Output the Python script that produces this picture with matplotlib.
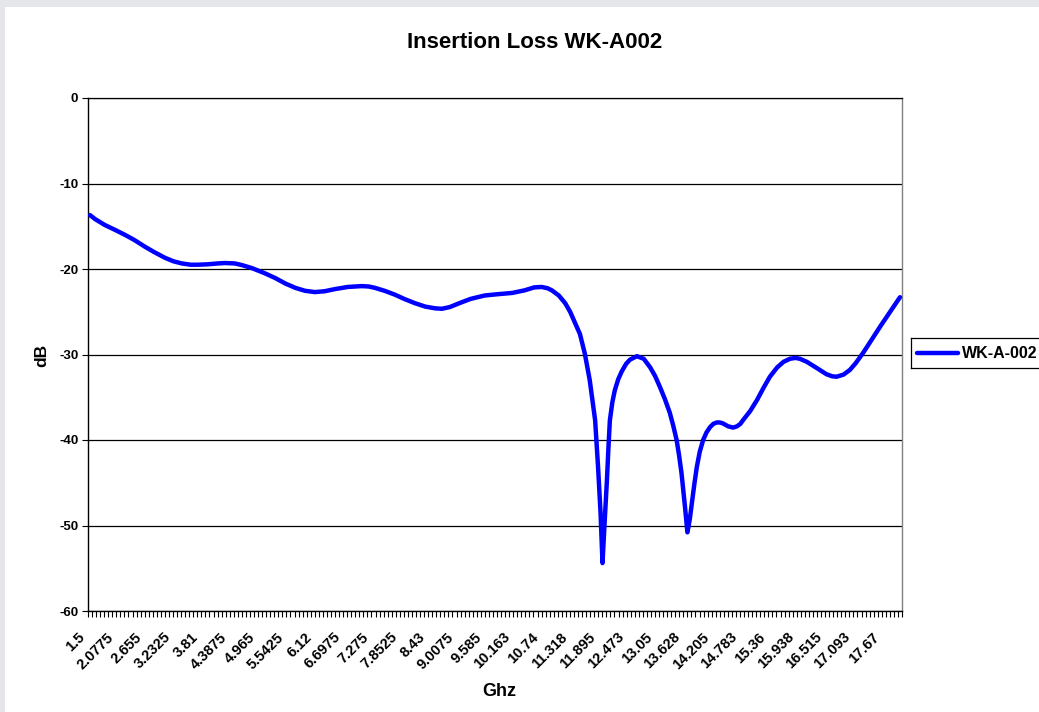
import matplotlib
matplotlib.use("Agg")
import matplotlib.pyplot as plt
from matplotlib.lines import Line2D
import matplotlib.transforms as mtransforms
import numpy as np

plt.rcParams['font.family'] = ['Liberation Sans', 'DejaVu Sans']
plt.rcParams['font.weight'] = 'bold'

# Category axis: 1.5 to 18.0 GHz in 0.0825 GHz steps (201 categories)
f_start = 1.5
f_step = 0.0825
n_cat = 201
tick_labels = ["1.5", "2.0775", "2.655", "3.2325", "3.81", "4.3875", "4.965",
               "5.5425", "6.12", "6.6975", "7.275", "7.8525", "8.43", "9.0075",
               "9.585", "10.163", "10.74", "11.318", "11.895", "12.473", "13.05",
               "13.628", "14.205", "14.783", "15.36", "15.938", "16.515",
               "17.093", "17.67"]

# Curve (frequency GHz, insertion loss dB)
freq = [1.50, 1.60, 1.80, 2.00, 2.21, 2.40, 2.62, 2.80, 3.03, 3.20, 3.37, 3.55,
        3.70, 3.90, 4.10, 4.25, 4.45, 4.60, 4.80, 5.06, 5.27, 5.48, 5.68, 5.88,
        6.08, 6.28, 6.49, 6.75, 7.04, 7.18, 7.30, 7.50, 7.71, 7.90, 8.12, 8.33,
        8.53, 8.67, 8.83, 9.00, 9.25, 9.54, 9.80, 10.10, 10.35, 10.55, 10.70,
        10.82, 10.91, 11.05, 11.18, 11.28, 11.38, 11.48, 11.58, 11.68, 11.79,
        11.85, 11.90, 11.94, 11.98, 12.03, 12.06, 12.09, 12.14, 12.19, 12.26,
        12.33, 12.42, 12.50, 12.64, 12.78, 12.91, 13.01, 13.11, 13.21, 13.31,
        13.38, 13.45, 13.50, 13.55, 13.62, 13.67, 13.72, 13.76, 13.81, 13.86,
        13.92, 13.99, 14.06, 14.13, 14.20, 14.27, 14.33, 14.39, 14.50, 14.60,
        14.68, 14.75, 14.80, 14.95, 15.09, 15.22, 15.35, 15.50, 15.63, 15.76,
        15.87, 15.96, 16.10, 16.31, 16.50, 16.62, 16.71, 16.85, 16.98, 17.10,
        17.25, 17.42, 17.60, 17.80, 18.00]
loss = [-13.7, -14.15, -14.85, -15.4, -16.0, -16.6, -17.4, -18.0, -18.7, -19.1,
        -19.35, -19.5, -19.5, -19.45, -19.35, -19.3, -19.35, -19.55, -19.9,
        -20.5, -21.05, -21.7, -22.2, -22.55, -22.7, -22.6, -22.35, -22.1, -22.0,
        -22.05, -22.2, -22.55, -23.0, -23.5, -24.0, -24.4, -24.6, -24.65, -24.45,
        -24.05, -23.5, -23.1, -22.95, -22.8, -22.5, -22.15, -22.1, -22.25, -22.5,
        -23.1, -24.0, -25.0, -26.3, -27.6, -29.9, -33.0, -37.7, -43.2, -48.5,
        -54.4, -50.0, -44.7, -41.0, -37.7, -35.6, -34.2, -32.9, -32.0, -31.1,
        -30.6, -30.2, -30.5, -31.5, -32.5, -33.8, -35.2, -36.8, -38.3, -40.0,
        -41.8, -43.9, -47.8, -50.8, -49.2, -47.4, -45.2, -43.2, -41.4, -40.0,
        -39.1, -38.5, -38.1, -37.95, -37.95, -38.05, -38.4, -38.55, -38.4, -38.1,
        -37.7, -36.6, -35.3, -33.9, -32.6, -31.5, -30.85, -30.5, -30.4, -30.5,
        -30.85, -31.6, -32.3, -32.55, -32.6, -32.35, -31.8, -31.0, -29.8, -28.3,
        -26.7, -25.0, -23.3]

W, H = 1039, 712
fig = plt.figure(figsize=(W / 100, H / 100), dpi=100, facecolor='#e4e6ea')
bg = fig.add_axes([5 / W, 0, 1 - 5 / W, 1 - 7 / H], zorder=-10)
bg.set_facecolor('white')
bg.set_xticks([])
bg.set_yticks([])
for s in bg.spines.values():
    s.set_visible(False)

ax = fig.add_axes([88 / W, 1 - 611 / H, (902 - 88) / W, (611 - 98) / H])
ax.set_facecolor('white')

xpos = [(f - f_start) / f_step for f in freq]
ax.plot(xpos, loss, color='#0000ff', lw=3.2, solid_capstyle='round',
        solid_joinstyle='round', zorder=3, label='WK-A-002')

ax.set_xlim(-0.5, n_cat - 0.5)
ax.set_ylim(-60, 0)
ax.set_yticks(np.arange(-60, 1, 10))
ax.set_yticklabels([str(v) for v in range(-60, 1, 10)], fontsize=9.5, fontweight='bold')
ax.yaxis.grid(True, color='black', lw=0.9, zorder=1)

# x ticks: marks at category boundaries, labels every 7 categories
ax.set_xticks(np.arange(-0.5, n_cat, 1.0), minor=True)
label_pos = np.arange(0, 7 * len(tick_labels), 7)
ax.set_xticks(label_pos)
ax.set_xticklabels([])
ax.tick_params(axis='x', which='major', length=0)
ax.tick_params(axis='x', which='minor', length=4, width=0.8, direction='out')
ax.tick_params(axis='y', length=4, width=0.8, direction='out', pad=3)

offset = mtransforms.ScaledTranslation(-12 / 100, -19 / 100, fig.dpi_scale_trans)
lbl_trans = ax.get_xaxis_transform() + offset
for p, t in zip(label_pos, tick_labels):
    ax.text(p, 0, t, transform=lbl_trans, rotation=45, ha='right', va='top',
            rotation_mode='anchor', fontsize=10.5, fontweight='bold', clip_on=False)

for s in ['left', 'bottom']:
    ax.spines[s].set_color('black')
    ax.spines[s].set_linewidth(1.0)
ax.spines['right'].set_color('#808080')
ax.spines['right'].set_linewidth(1.0)
ax.spines['top'].set_color('black')
ax.spines['top'].set_linewidth(0.9)

fig.text(535 / W, 1 - 43 / H, 'Insertion Loss WK-A002', ha='center', va='center',
         fontsize=16, fontweight='bold')
fig.text(42 / W, 1 - 355 / H, 'dB', ha='center', va='center', rotation=90,
         fontsize=12.5, fontweight='bold')
fig.text(499 / W, 1 - 691 / H, 'Ghz', ha='center', va='center',
         fontsize=13, fontweight='bold')

# legend box (extends past right edge, as in the reference)
leg_ax = fig.add_axes([911 / W, 1 - 368 / H, 140 / W, 30 / H])
leg_ax.set_xlim(0, 140)
leg_ax.set_ylim(0, 30)
leg_ax.set_xticks([])
leg_ax.set_yticks([])
for s in leg_ax.spines.values():
    s.set_color('black')
    s.set_linewidth(0.9)
leg_ax.add_line(Line2D([6, 47], [15, 15], color='#0000ff', lw=3.2,
                       solid_capstyle='round'))
leg_ax.text(51, 15, 'WK-A-002', ha='left', va='center', fontsize=11.5,
            fontweight='bold')

fig.savefig('out.png', dpi=100, facecolor=fig.get_facecolor())
